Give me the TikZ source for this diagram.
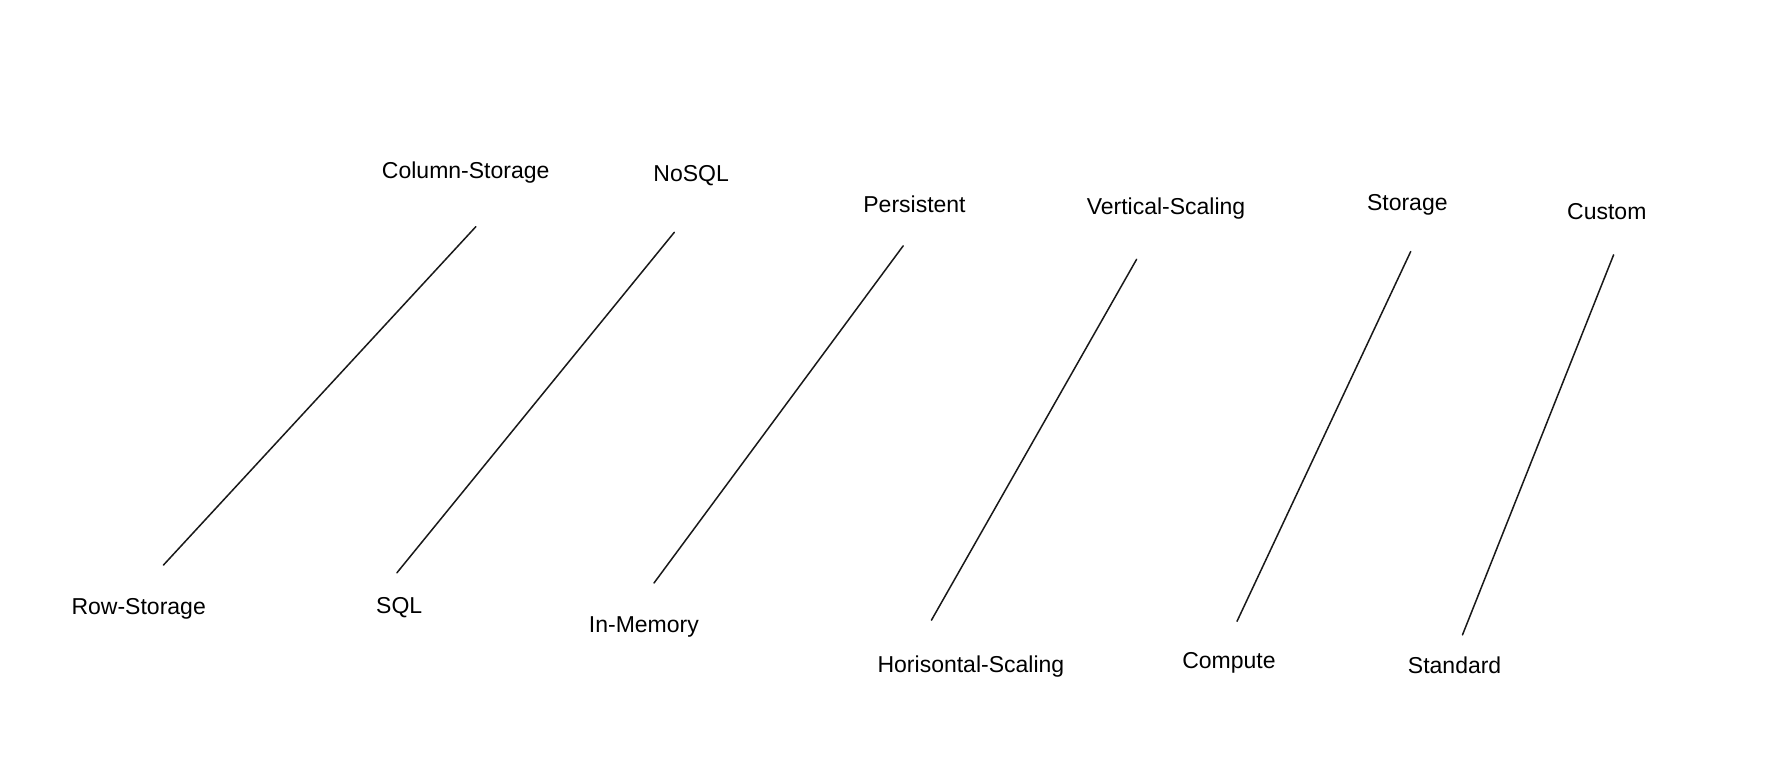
\documentclass[tikz,border=0pt]{standalone}
\usepackage{fontspec}
\setmainfont{Liberation Sans}
\begin{document}
\begin{tikzpicture}[x=1pt,y=-1pt,
  lbl/.style={font=\fontsize{23}{27}\selectfont, text=black, inner sep=0pt},
  link/.style={draw=black!90, line width=1.5pt, line cap=round}]
\useasboundingbox[fill=white] (0,0) rectangle (1768,780);
% labels
\node[lbl] (cs) at (465.7,172.5) {Column-Storage};
\node[lbl] (nosql) at (691.2,175.9) {NoSQL};
\node[lbl] (pers) at (914.5,204.1) {Persistent};
\node[lbl] (vs) at (1166,208.6) {Vertical-Scaling};
\node[lbl] (stor) at (1407.3,205.2) {Storage};
\node[lbl] (cust) at (1606.8,212) {Custom};
\node[lbl] (rs) at (138.7,608.9) {Row-Storage};
\node[lbl] (sql) at (399.2,607.8) {SQL};
\node[lbl] (inm) at (643.9,627) {In-Memory};
\node[lbl] (hs) at (970.9,666.4) {Horisontal-Scaling};
\node[lbl] (comp) at (1229,663) {Compute};
\node[lbl] (std) at (1454.6,665.3) {Standard};
% line end points
\coordinate (a1) at (163.5,565);   \coordinate (b1) at (475.9,226.6);
\coordinate (a2) at (396.9,572.8); \coordinate (b2) at (674.3,232.3);
\coordinate (a3) at (654,583);     \coordinate (b3) at (903.2,245.8);
\coordinate (a4) at (931.4,620.2); \coordinate (b4) at (1136.6,259.3);
\coordinate (a5) at (1237,621.3);  \coordinate (b5) at (1410.7,251.5);
\coordinate (a6) at (1462.5,634.8);\coordinate (b6) at (1613.6,254.8);
\draw[link] (a1) -- (b1);
\draw[link] (a2) -- (b2);
\draw[link] (a3) -- (b3);
\draw[link] (a4) -- (b4);
\draw[link] (a5) -- (b5);
\draw[link] (a6) -- (b6);
\end{tikzpicture}
\end{document}
